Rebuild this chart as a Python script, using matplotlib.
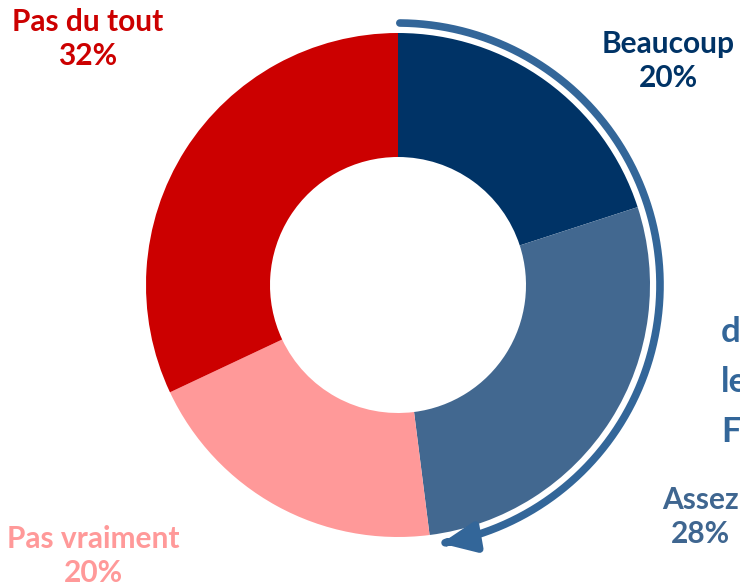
import matplotlib.pyplot as plt
import numpy as np
from matplotlib.patches import FancyArrowPatch
from matplotlib.path import Path

# Données du graphique
categories = ['Beaucoup', 'Assez', 'Pas vraiment', 'Pas du tout']
values = [20, 28, 20, 32]
colors = ['#003366', '#426890', '#FF9999', '#CC0000']
label_colors = ['#003366', '#3F6690', '#FF9999', '#CC0000']
side_text = ['de', 'les', 'Fr']

plt.rcParams['font.family'] = ['Lato', 'DejaVu Sans']

fig = plt.figure(figsize=(7.4, 5.87), dpi=100)
ax = fig.add_axes([0, 0, 1, 1])

cx, cy = 398, 302
ax.pie(values, colors=colors, startangle=90, counterclock=False,
       center=(cx, cy), radius=252, wedgeprops=dict(width=124, linewidth=0),
       frame=True)
ax.set_xlim(0, 740)
ax.set_ylim(0, 587)
ax.axis('off')

# Flèche en arc (sens horaire)
theta = np.radians(np.linspace(89.6, -80.5, 200))
arc = np.column_stack([cx + 262 * np.cos(theta), cy + 262 * np.sin(theta)])
arrow = FancyArrowPatch(path=Path(arc), arrowstyle='-|>,head_length=0.9,head_width=0.4',
                        mutation_scale=22, color='#336699', linewidth=5.5)
ax.add_patch(arrow)

# Étiquettes
label_pos = [(668, 526), (700, 70), (93, 31), (88, 548)]
for cat, val, col, (x, y) in zip(categories, values, label_colors, label_pos):
    ax.text(x, y, f'{cat}\n{val}%', ha='center', va='center', fontsize=21.5,
            fontweight='bold', color=col, linespacing=1.3)

# Texte coupé à droite (comme dans l'original)
for i, t in enumerate(side_text):
    ax.text(721, 255 - i * 50, t, ha='left', va='center', fontsize=25,
            fontweight='bold', color='#336699')

plt.savefig('out.png', dpi=100)
